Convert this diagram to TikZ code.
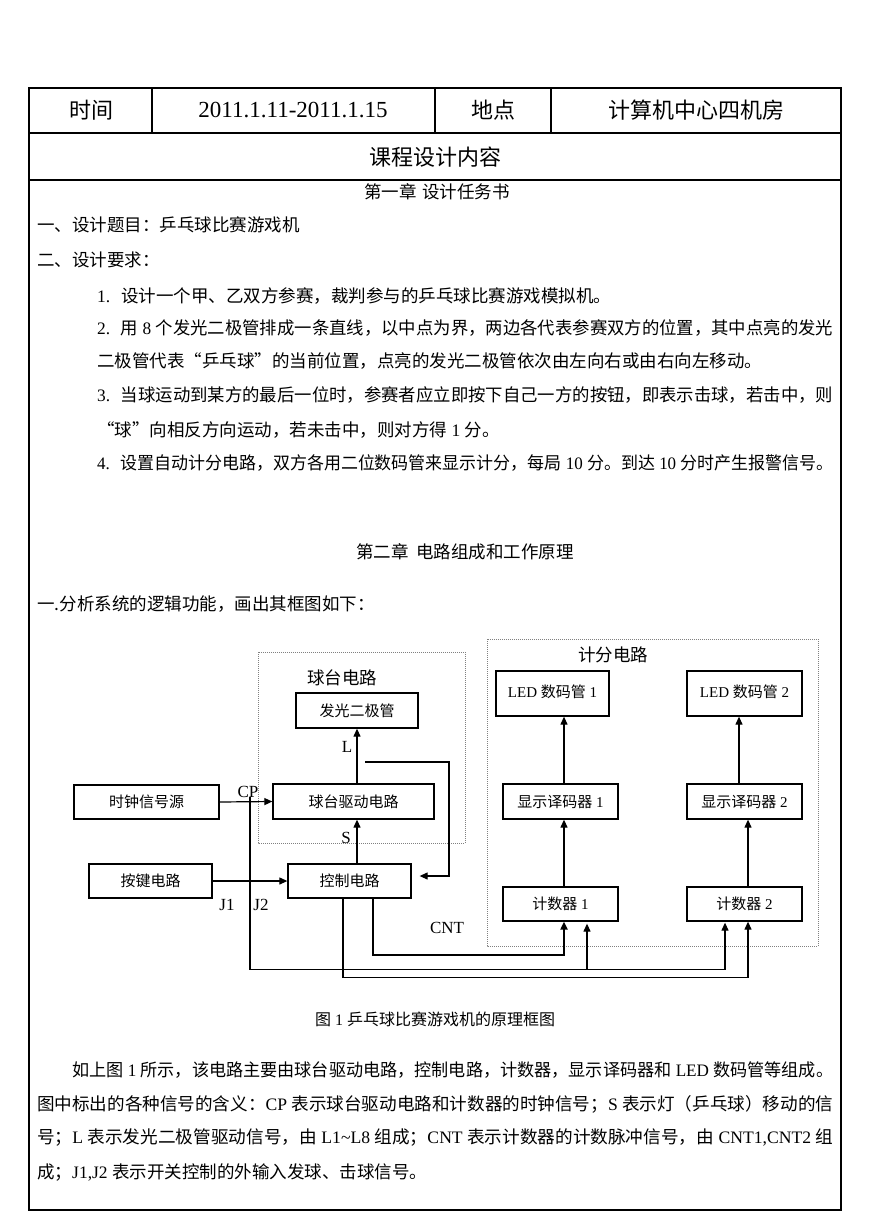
\documentclass[tikz,border=0pt]{standalone}
\usepackage{fontspec}
\setmainfont{Noto Sans CJK SC}
\newfontfamily\tnr{Liberation Serif}
\usepackage{graphicx}
\usetikzlibrary{arrows.meta,calc}
\newcommand\latn[1]{{\tnr #1}}
\newcommand\fitw[2]{\resizebox{#1pt}{\height}{#2}}
\begin{document}
\begin{tikzpicture}[x=1pt,y=-1pt,
  tab/.style={line width=1.3pt},
  txt/.style={inner sep=0pt,anchor=west,font=\fontsize{17.5}{20}\selectfont},
  ctxt/.style={inner sep=0pt,font=\fontsize{17.5}{20}\selectfont},
  hd/.style={inner sep=0pt,font=\fontsize{22}{24}\selectfont},
  blk/.style={draw,line width=1.3pt,inner sep=0pt,font=\fontsize{15}{17}\selectfont},
  ln/.style={line width=1.2pt},
  arr/.style={line width=1.2pt,-{Triangle[length=8pt,width=7pt]}},
  sig/.style={inner sep=0pt,font=\tnr\fontsize{17}{19}\selectfont},
  grp/.style={draw=gray,dash pattern=on 1pt off 1pt,line width=0.9pt}]
\useasboundingbox[fill=white] (0,0) rectangle (869,1228);

% ---------- table frame ----------
\draw[tab] (29,88) rectangle (841,1210);
\draw[tab] (29,133) -- (841,133);
\draw[tab] (29,180) -- (841,180);
\draw[tab] (152,88) -- (152,133);
\draw[tab] (435,88) -- (435,133);
\draw[tab] (551,88) -- (551,133);

\node[hd] (h1) at (91,110) {时间};
\node[hd,font=\tnr\fontsize{23}{25}\selectfont] (h2) at (293,110) {2011.1.11-2011.1.15};
\node[hd] (h3) at (493,110) {地点};
\node[hd] (h4) at (696,110) {计算机中心四机房};
\node[hd] (h5) at (435,157) {课程设计内容};

% ---------- chapter 1 ----------
\node[ctxt] (c1) at (437,192) {第一章\hspace{6pt}设计任务书};
\node[txt] (t1) at (37,225) {一、设计题目：乒乓球比赛游戏机};
\node[txt] (t2) at (37,260) {二、设计要求：};
\node[txt] (r1) at (97,296) {\latn{1. }\hspace{5pt}设计一个甲、乙双方参赛，裁判参与的乒乓球比赛游戏模拟机。};
\node[txt] (r2) at (97,328) {\fitw{736}{\latn{2. }\hspace{5pt}用\latn{ 8 }个发光二极管排成一条直线，以中点为界，两边各代表参赛双方的位置，其中点亮的发光}};
\node[txt] (r2b) at (97,361) {二极管代表“乒乓球”的当前位置，点亮的发光二极管依次由左向右或由右向左移动。};
\node[txt] (r3) at (97,395) {\fitw{736}{\latn{3. }\hspace{5pt}当球运动到某方的最后一位时，参赛者应立即按下自己一方的按钮，即表示击球，若击中，则}};
\node[txt] (r3b) at (97,430) {“球”向相反方向运动，若未击中，则对方得\latn{ 1 }分。};
\node[txt] (r4) at (97,463) {\fitw{736}{\latn{4. }\hspace{5pt}设置自动计分电路，双方各用二位数码管来显示计分，每局\latn{ 10 }分。到达\latn{ 10 }分时产生报警信号。}};

% ---------- chapter 2 ----------
\node[ctxt] (c2) at (465,552) {第二章\ \ 电路组成和工作原理};
\node[txt] (t3) at (37,604) {一.分析系统的逻辑功能，画出其框图如下：};

% ---------- block diagram ----------
\draw[grp] (258,652) rectangle (465,843);
\draw[grp] (487,639) rectangle (818,946);
\node[ctxt] (g1) at (342,678) {球台电路};
\node[ctxt] (g2) at (613,655) {计分电路};

\node[blk,minimum width=122pt,minimum height=35pt] (fg) at (357,710.5) {发光二极管};
\node[blk,minimum width=161pt,minimum height=35pt] (qd) at (353.5,801.5) {球台驱动电路};
\node[blk,minimum width=145pt,minimum height=34pt] (clk) at (146.5,802) {时钟信号源};
\node[blk,minimum width=123pt,minimum height=34pt] (key) at (150.5,881) {按键电路};
\node[blk,minimum width=123pt,minimum height=34pt] (ctl) at (349.5,881) {控制电路};
\node[blk,minimum width=113pt,minimum height=45pt] (led1) at (552.5,693.5) {\raisebox{5pt}{\latn{LED }数码管\latn{ 1}}};
\node[blk,minimum width=115pt,minimum height=45pt] (led2) at (744.5,693.5) {\raisebox{5pt}{\latn{LED }数码管\latn{ 2}}};
\node[blk,minimum width=115pt,minimum height=35pt] (dec1) at (560.5,801.5) {显示译码器\latn{ 1}};
\node[blk,minimum width=115pt,minimum height=35pt] (dec2) at (744.5,801.5) {显示译码器\latn{ 2}};
\node[blk,minimum width=115pt,minimum height=34pt] (cnt1) at (560.5,904) {计数器\latn{ 1}};
\node[blk,minimum width=115pt,minimum height=34pt] (cnt2) at (744.5,904) {计数器\latn{ 2}};

% signal labels
\node[sig] (lcp) at (248,792) {CP};
\node[sig] (ll) at (347,747) {L};
\node[sig] (ls) at (346,838) {S};
\node[sig] (lj1) at (227,905) {J1};
\node[sig] (lj2) at (261,905) {J2};
\node[sig] (lcnt) at (447,928) {CNT};

% connectors in ball-table part
\draw[arr] (qd.north -| fg.south) -- (fg.south);
\draw[arr] (ctl.north -| fg.south) -- (qd.south -| fg.south);
\draw[arr] (clk.east) -- (qd.west);
\draw[arr] (key.east) -- (ctl.west);
\coordinate (fb) at (365,762);
\draw[arr] (fb) -- (449,762) |- ([xshift=8pt,yshift=5pt]ctl.east);

% score part, vertical arrows
\coordinate (a1) at ($(cnt1.north)+(3.5,0)$);
\coordinate (a2) at ($(dec1.north)+(3.5,0)$);
\coordinate (a3) at ($(cnt2.north)+(3.5,0)$);
\coordinate (a4) at ($(dec2.north)+(-5.5,0)$);
\draw[arr] (a1) -- (a1 |- dec1.south);
\draw[arr] (a2) -- (a2 |- led1.south);
\draw[arr] (a3) -- (a3 |- dec2.south);
\draw[arr] (a4) -- (a4 |- led2.south);

% bottom wiring
\coordinate (cpd) at (250,797);
\draw[arr] (cpd) |- ($(cnt2.south)+(-19.5,48)$) -- ($(cnt2.south)+(-19.5,1)$);
\draw[arr] ($(cnt1.south)+(26.5,48)$) -- ($(cnt1.south)+(26.5,2)$);
\draw[arr,line width=2pt] ($(ctl.south)+(23.5,0)$) |- ($(cnt1.south)+(3.5,33)$) -- (cnt1.south -| a1);
\draw[arr] ($(ctl.south)+(-6.5,0)$) |- ($(cnt2.south)+(3.5,56)$) -- (cnt2.south -| a3);

\node[inner sep=0pt,font=\fontsize{16}{18}\selectfont] (cap) at (435,1019) {图\latn{ 1 }乒乓球比赛游戏机的原理框图};

% ---------- paragraph ----------
\node[txt] (p1) at (72,1070) {\fitw{761}{如上图\latn{ 1 }所示，该电路主要由球台驱动电路，控制电路，计数器，显示译码器和\latn{ LED }数码管等组成。}};
\node[txt] (p2) at (37,1104) {\fitw{796}{图中标出的各种信号的含义：\latn{CP }表示球台驱动电路和计数器的时钟信号；\latn{S }表示灯（乒乓球）移动的信}};
\node[txt] (p3) at (37,1138) {\fitw{796}{号；\latn{L }表示发光二极管驱动信号，由\latn{ L1\textasciitilde L8 }组成；\latn{CNT }表示计数器的计数脉冲信号，由\latn{ CNT1,CNT2 }组}};
\node[txt] (p4) at (37,1173) {成；\latn{J1,J2 }表示开关控制的外输入发球、击球信号。};
\end{tikzpicture}
\end{document}
